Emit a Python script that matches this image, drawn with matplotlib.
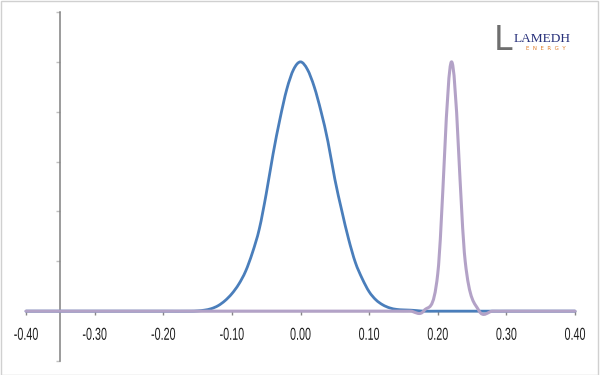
import matplotlib
matplotlib.use("Agg")
import matplotlib.pyplot as plt
from matplotlib.path import Path
from matplotlib.patches import PathPatch, Rectangle
from matplotlib.patheffects import AbstractPathEffect
from matplotlib.transforms import Affine2D

# ---------------- data ----------------
blue_x = [-0.40, -0.30, -0.20, -0.16, -0.15, -0.14, -0.13, -0.12, -0.11, -0.10,
          -0.09, -0.08, -0.07, -0.06, -0.05, -0.04, -0.03, -0.02, -0.01, 0.00,
          0.01, 0.02, 0.03, 0.04, 0.05, 0.06, 0.07, 0.08, 0.09, 0.10,
          0.11, 0.12, 0.13, 0.14, 0.15, 0.16, 0.17, 0.18, 0.20, 0.30, 0.40]
blue_y = [0.0, 0.0, 0.0, 0.0, 0.001, 0.004, 0.010, 0.022, 0.042, 0.070,
          0.108, 0.160, 0.235, 0.330, 0.470, 0.630, 0.770, 0.890, 0.970, 1.000,
          0.970, 0.900, 0.800, 0.680, 0.530, 0.405, 0.290, 0.195, 0.130, 0.078,
          0.045, 0.025, 0.013, 0.007, 0.005, 0.004, 0.002, 0.0, 0.0, 0.0, 0.0]

purple_x = [-0.40, -0.38, -0.36, -0.34, -0.32, -0.30, -0.28, -0.26, -0.24, -0.22,
            -0.20, -0.18, -0.16, -0.14, -0.12, -0.10, -0.08, -0.06, -0.04, -0.02,
            0.00, 0.02, 0.04, 0.06, 0.08, 0.10, 0.12, 0.14, 0.16, 0.18,
            0.20, 0.22, 0.24, 0.26, 0.28, 0.30, 0.32, 0.34, 0.36, 0.38, 0.40]
purple_y = [0.0, 0.0, 0.0, 0.0, 0.0, 0.0, 0.0, 0.0, 0.0, 0.0,
            0.0, 0.0, 0.0, 0.0, 0.0, 0.0, 0.0, 0.0, 0.0, 0.0,
            0.0, 0.0, 0.0, 0.0, 0.0, 0.0, 0.0, 0.0, 0.0, 0.002,
            0.15, 1.00, 0.20, 0.002, 0.0, 0.0, 0.0, 0.0, 0.0, 0.0, 0.0]

x_ticks = [-0.40, -0.30, -0.20, -0.10, 0.00, 0.10, 0.20, 0.30, 0.40]
x_tick_labels = ["-0.40", "-0.30", "-0.20", "-0.10", "0.00", "0.10", "0.20", "0.30", "0.40"]
y_ticks = [-0.2, 0.0, 0.2, 0.4, 0.6, 0.8, 1.0, 1.2]

BLUE = "#4A7EBB"
PURPLE = "#B3A2C7"


def smooth_path(xs, ys):
    """Excel-like smoothed line: cubic Bezier through every data point."""
    n = len(xs)
    slopes = []
    for i in range(n):
        i0 = max(i - 1, 0)
        i1 = min(i + 1, n - 1)
        slopes.append((ys[i1] - ys[i0]) / (xs[i1] - xs[i0]))
    verts = [(xs[0], ys[0])]
    codes = [Path.MOVETO]
    for i in range(n - 1):
        h = xs[i + 1] - xs[i]
        c1 = (xs[i] + h / 3.0, ys[i] + slopes[i] * h / 3.0)
        c2 = (xs[i + 1] - h / 3.0, ys[i + 1] - slopes[i + 1] * h / 3.0)
        verts += [c1, c2, (xs[i + 1], ys[i + 1])]
        codes += [Path.CURVE4, Path.CURVE4, Path.CURVE4]
    return Path(verts, codes)


class HCondense(AbstractPathEffect):
    """Draw a text horizontally condensed about its own centre."""

    def __init__(self, sx):
        super().__init__()
        self.sx = sx

    def draw_path(self, renderer, gc, tpath, affine, rgbFace=None):
        bb = tpath.get_extents(affine)
        cx = 0.5 * (bb.x0 + bb.x1)
        t = affine + Affine2D().translate(-cx, 0).scale(self.sx, 1.0).translate(cx, 0)
        renderer.draw_path(gc, tpath, t, rgbFace)


fig = plt.figure(figsize=(6, 3.75), dpi=100)
fig.patch.set_facecolor("white")
ax = fig.add_axes([26 / 600, 14 / 375, 549 / 600, 349 / 375])
ax.set_facecolor("none")
ax.set_xlim(-0.40, 0.40)
ax.set_ylim(-0.2, 1.2)

for sp in ("top", "right"):
    ax.spines[sp].set_visible(False)
ax.spines["left"].set_position(("data", -0.35))
ax.spines["left"].set_color("#808080")
ax.spines["left"].set_linewidth(1.1)
ax.spines["bottom"].set_position(("data", 0.0))
ax.spines["bottom"].set_color("#868686")
ax.spines["bottom"].set_linewidth(1.0)

ax.set_yticks(y_ticks)
ax.set_yticklabels([])
ax.tick_params(axis="y", direction="out", length=3, width=1, color="#c0c0c0")

ax.set_xticks(x_ticks)
ax.set_xticklabels(x_tick_labels, family="Liberation Sans", fontsize=12.5, color="#1e1e1e")
ax.tick_params(axis="x", direction="out", length=3, width=1, color="#868686", pad=9)
for lab in ax.get_xticklabels():
    lab.set_path_effects([HCondense(0.62)])

ax.add_patch(PathPatch(smooth_path(blue_x, blue_y), facecolor="none",
                       edgecolor=BLUE, lw=2.0, zorder=3, clip_on=False,
                       capstyle="round", joinstyle="round"))
ax.add_patch(PathPatch(smooth_path(purple_x, purple_y), facecolor="none",
                       edgecolor=PURPLE, lw=2.2, zorder=4, clip_on=False,
                       capstyle="round", joinstyle="round"))

# chart area border
fig.patches.append(Rectangle((0.5 / 600, 0.5 / 375), 597 / 600, 373.5 / 375,
                             transform=fig.transFigure, fill=False,
                             edgecolor="#d0d0d0", lw=1.0))

# logo
fig.text(494 / 600, 1 - 50 / 375, "L", fontsize=24, color="#6e6e6e",
         family="DejaVu Sans", ha="left", va="baseline")
fig.text(513.5 / 600, 1 - 42.5 / 375, "LAMEDH", fontsize=9.6, color="#27307a",
         family="Liberation Serif", ha="left", va="baseline")
fig.text(546 / 600, 1 - 50.5 / 375, "E  N  E  R  G  Y", fontsize=4.0, color="#e07b27",
         family="DejaVu Sans", ha="center", va="baseline")

fig.savefig("out.png", dpi=100)
